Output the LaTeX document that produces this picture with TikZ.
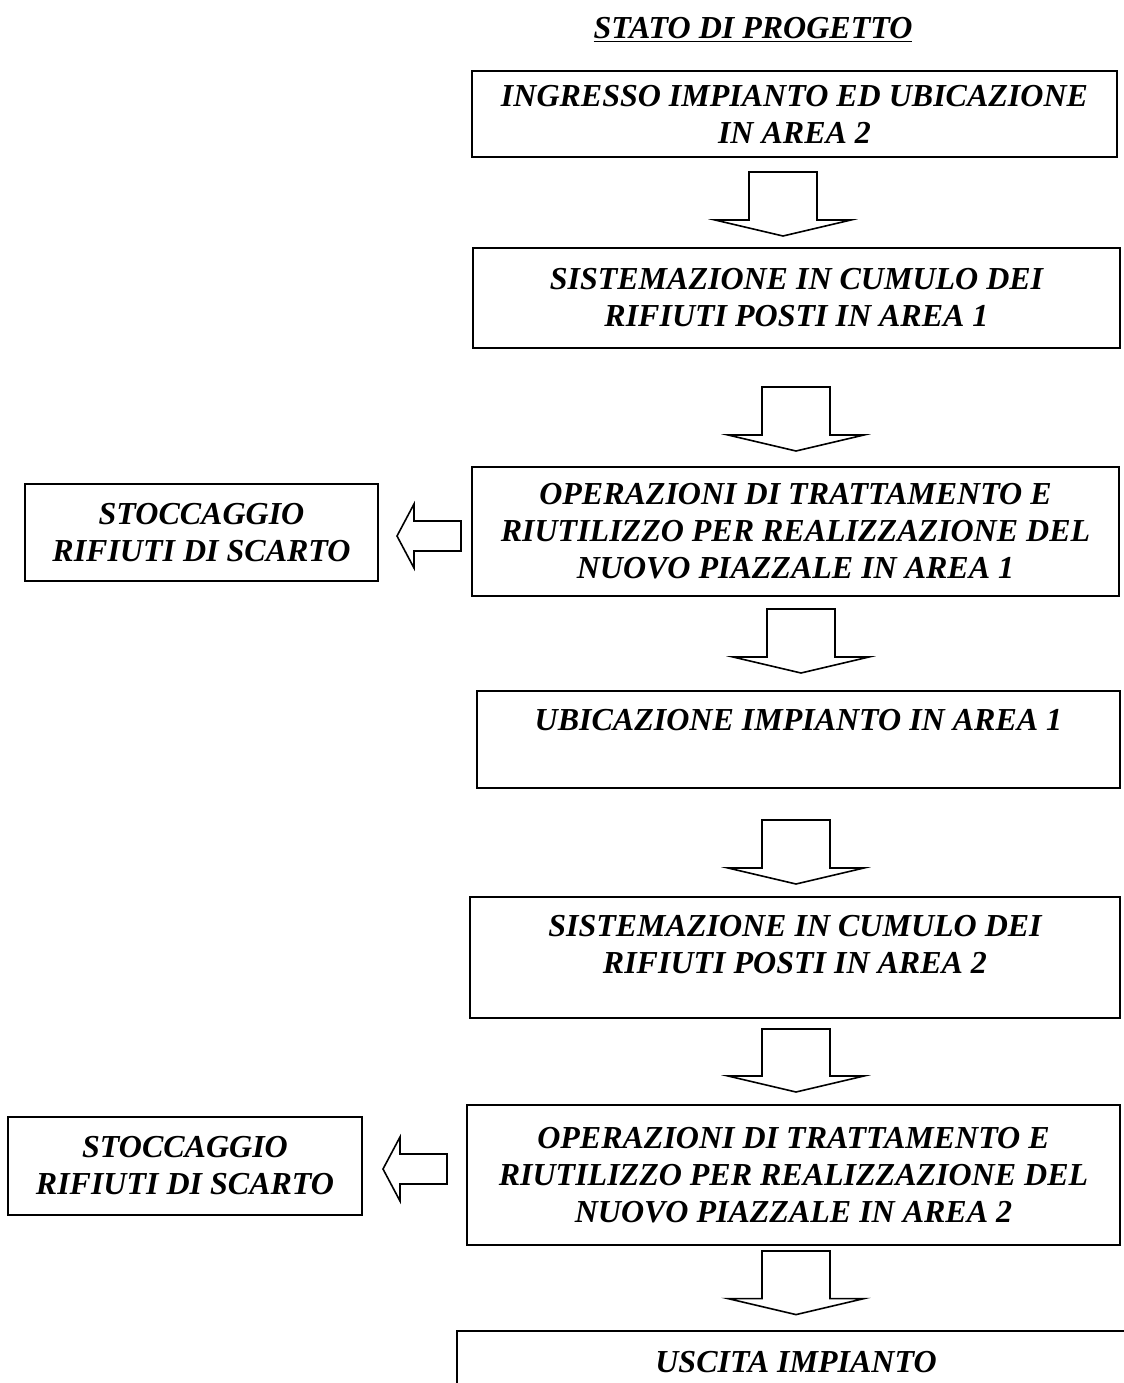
\documentclass[tikz,border=0pt]{standalone}
\usepackage{fontspec}
\setmainfont{Liberation Serif}
\usetikzlibrary{calc}
\def\blockdown(#1)(#2)(#3:#4:#5){%
	\coordinate (t) at ($(#3,0 |- #1.south)+(0,#4)$);
	\coordinate (p) at ($(#3,0 |- #2.north)+(0,-#5)$);
	\draw[blockarrow] ($(t)+(-34,0)$) -- ($(t)+(34,0)$) -- ($(p)+(34,-16)$) -- ($(p)+(68,-16)$) -- (p) -- ($(p)+(-68,-16)$) -- ($(p)+(-34,-16)$) -- cycle;}
\def\blockleft(#1)(#2)(#3:#4:#5){%
	\coordinate (t) at ($(#1.west |- 0,#3)+(-#4,0)$);
	\coordinate (p) at ($(#2.east |- 0,#3)+(#5,0)$);
	\draw[blockarrow] ($(t)+(0,-15)$) -- ($(t)+(0,15)$) -- ($(p)+(17,15)$) -- ($(p)+(17,32)$) -- (p) -- ($(p)+(17,-32)$) -- ($(p)+(17,-15)$) -- cycle;}
\tikzset{
	txt/.style={font=\bfseries\itshape\fontsize{16}{18.5}\selectfont, align=center, inner sep=0pt},
	box/.style={txt, draw, line width=1pt},
	boxsize/.style 2 args={minimum width=#1*0.5pt, minimum height=#2*0.5pt},
	blockarrow/.style={draw, line width=0.8pt, fill=white, line join=miter},
}

\begin{document}
\begin{tikzpicture}[x=0.5pt, y=-0.5pt]
			%%%%% START %%%%%
			\useasboundingbox (0,0) rectangle (1124,1383);
			
			\node[txt] (title) at (753,30) {\underline{STATO DI PROGETTO}};
			
			\node[box, boxsize={645}{86}] (b1) at (794.5,114) {INGRESSO IMPIANTO ED UBICAZIONE\\IN AREA 2};
			\node[box, boxsize={647}{100}] (b2) at (796.5,298) {SISTEMAZIONE IN CUMULO DEI\\RIFIUTI POSTI IN AREA 1};
			\node[box, boxsize={647}{129}] (b3) at (795.5,531.5) {OPERAZIONI DI TRATTAMENTO E\\RIUTILIZZO PER REALIZZAZIONE DEL\\NUOVO PIAZZALE IN AREA 1};
			\node[box, boxsize={643}{97}] (b4) at (798.5,739.5) {UBICAZIONE IMPIANTO IN AREA 1\\[-4pt]\strut};
			\node[box, boxsize={650}{121}] (b5) at (795,957.5) {SISTEMAZIONE IN CUMULO DEI\\RIFIUTI POSTI IN AREA 2\\[-11pt]\strut};
			\node[box, boxsize={653}{140}] (b6) at (793.5,1175) {OPERAZIONI DI TRATTAMENTO E\\RIUTILIZZO PER REALIZZAZIONE DEL\\NUOVO PIAZZALE IN AREA 2};
			\node[txt, boxsize={678}{62}] (b7) at (796,1362) {USCITA IMPIANTO};
			\draw[line width=1pt] (b7.north east) -- (b7.north west) -- (b7.south west);
			
			\node[box, boxsize={353}{97}] (s1) at (201.5,532.5) {STOCCAGGIO\\RIFIUTI DI SCARTO};
			\node[box, boxsize={354}{98}] (s2) at (185,1166) {STOCCAGGIO\\RIFIUTI DI SCARTO};
			
			\blockdown(b1)(b2)(783:14:11)
			\blockdown(b2)(b3)(796:38:15)
			\blockdown(b3)(b4)(801:12:17)
			\blockdown(b4)(b5)(796:31:12)
			\blockdown(b5)(b6)(796:10:12)
			\blockdown(b6)(b7)(796:5:16)
			
			\blockleft(b3)(s1)(536:10:18)
			\blockleft(b6)(s2)(1169:19:20)
			
			%%%%% END %%%%%
		\end{tikzpicture}
\end{document}
